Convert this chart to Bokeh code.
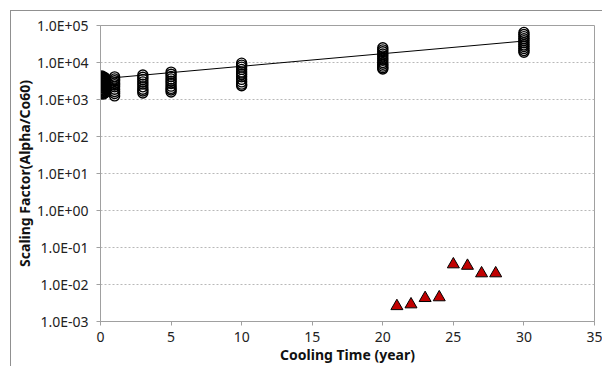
from bokeh.plotting import figure
from bokeh.models import FixedTicker, CustomJSTickFormatter
from bokeh.embed import file_html
from bokeh.resources import INLINE

# ---- data ----
circle_groups = {
    0.1: [4300, 4000, 3700, 3500, 3300, 3100, 2900, 2700, 2500, 2300, 2100, 1900, 1750, 1600, 1450],
    0.2: [4100, 3800, 3400, 3000, 2700, 2400, 2100, 1800, 1550, 1400],
    0.3: [3900, 3500, 3100, 2800, 2500, 2200, 1950, 1700, 1500],
    1.0: [4100, 3600, 3200, 2800, 2500, 2200, 1900, 1650, 1450, 1250],
    3.0: [4600, 4000, 3500, 3000, 2600, 2200, 1900, 1700, 1500],
    5.0: [5500, 4800, 4200, 3600, 3100, 2700, 2300, 2000, 1800, 1600],
    10.0: [9600, 8500, 7500, 6500, 5500, 4800, 4100, 3500, 3000, 2600, 2350],
    20.0: [25000, 22000, 19500, 17000, 15000, 13000, 11500, 10000, 9000, 8000, 7200, 6700],
    30.0: [65000, 57000, 50000, 44000, 39000, 34000, 30000, 27000, 24000, 21000, 19000],
}
tri_x = [21, 22, 23, 24, 25, 26, 27, 28]
tri_y = [0.0026, 0.0029, 0.0043, 0.0045, 0.035, 0.032, 0.020, 0.020]
trend_x = [0, 30]
trend_y = [3600, 38000]
y_ticks = [1e-3, 1e-2, 1e-1, 1e0, 1e1, 1e2, 1e3, 1e4, 1e5]
x_ticks = [0, 5, 10, 15, 20, 25, 30, 35]

cx, cy = [], []
for xv, ys in circle_groups.items():
    for yv in ys:
        cx.append(xv)
        cy.append(yv)

FONT = "Noto Sans"
GRAY = "#a0a0a0"

p = figure(width=602, height=366, y_axis_type="log",
           x_range=(0, 35), y_range=(1e-3, 1e5),
           output_backend="svg", toolbar_location=None,
           min_border_left=100, min_border_right=8, min_border_top=25, min_border_bottom=42)

# outer chart-area border (top and left) painted behind a transparent canvas border
p.border_fill_color = None
p.styles = {"background": "linear-gradient(#909090, #909090) 10px 10px / 100% 1px no-repeat, "
                          "linear-gradient(#909090, #909090) 10px 10px / 1px 100% no-repeat, white"}

p.outline_line_color = GRAY
p.outline_line_width = 1
p.background_fill_color = "white"

p.line(trend_x, trend_y, line_color="black", line_width=1)
p.scatter(cx, cy, marker="circle", size=10, fill_alpha=0, line_color="black", line_width=1.4)
p.scatter(tri_x, tri_y, marker="triangle", size=12, fill_color="#c00000", line_color="black", line_width=1)

p.xgrid.grid_line_color = None
p.ygrid.grid_line_color = "#b8b8b8"
p.ygrid.grid_line_dash = "2 2"
p.ygrid.ticker = FixedTicker(ticks=y_ticks)

p.yaxis.ticker = FixedTicker(ticks=y_ticks)
p.xaxis.ticker = FixedTicker(ticks=x_ticks)
p.yaxis.formatter = CustomJSTickFormatter(code="""
const s = tick.toExponential(1);
const parts = s.split('e');
const sign = parts[1][0];
const d = parts[1].slice(1).padStart(2, '0');
return parts[0] + 'E' + sign + d;
""")

for ax in (p.xaxis[0], p.yaxis[0]):
    ax.axis_line_color = GRAY
    ax.major_tick_line_color = GRAY
    ax.major_tick_out = 4
    ax.major_tick_in = 0
    ax.minor_tick_line_color = None
    ax.major_label_text_font = FONT
    ax.major_label_text_font_size = "14px"
    ax.major_label_text_color = "#222222"
    ax.axis_label_text_font = FONT
    ax.axis_label_text_font_size = "14px"
    ax.axis_label_text_font_style = "bold"
    ax.axis_label_text_color = "#111111"

p.yaxis.axis_label = "Scaling Factor(Alpha/Co60)"
p.xaxis.axis_label = "Cooling Time (year)"
p.yaxis.major_label_standoff = 8
p.xaxis.major_label_standoff = 6
p.xaxis.axis_label_standoff = 0
p.yaxis.axis_label_standoff = 0

open("out.html", "w").write(file_html(p, INLINE))
